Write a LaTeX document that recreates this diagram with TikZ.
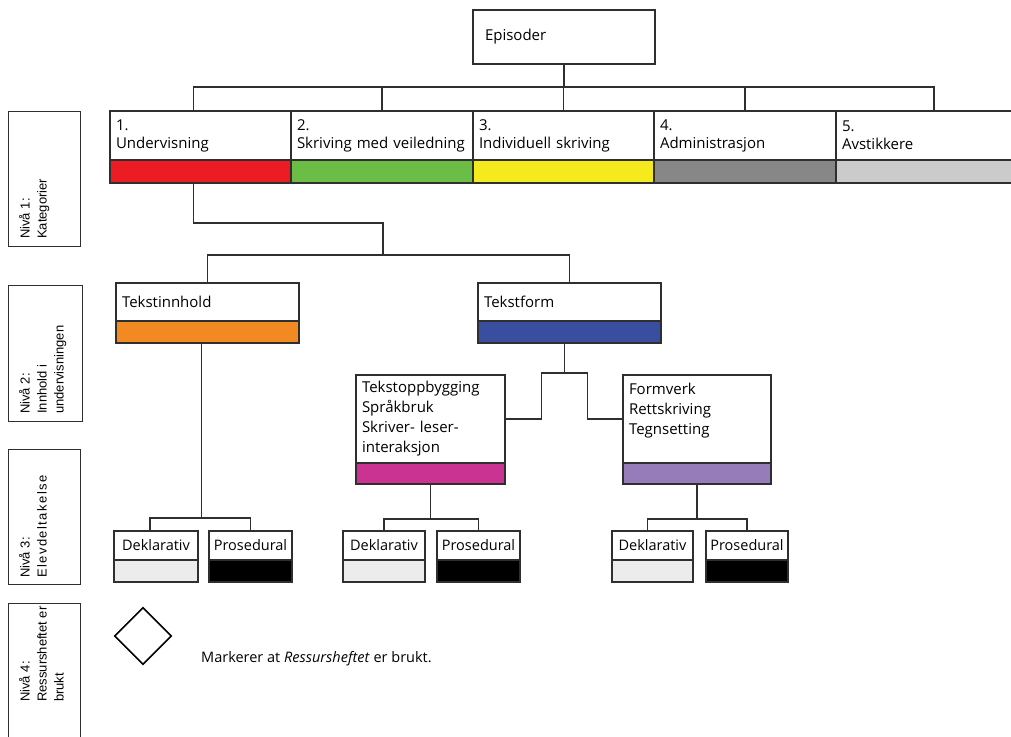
\documentclass[tikz,border=0pt]{standalone}
\usepackage{fontspec}
\setmainfont{Open Sans}
\newfontfamily\nivafont{Liberation Sans}
\usetikzlibrary{shapes.geometric}

\definecolor{linegray}{HTML}{2F2F2F}
\definecolor{katred}{HTML}{EC1C24}
\definecolor{katgreen}{HTML}{6BBD45}
\definecolor{katyellow}{HTML}{F4EA1C}
\definecolor{katdark}{HTML}{878787}
\definecolor{katlight}{HTML}{CBCBCB}
\definecolor{innorange}{HTML}{F28A21}
\definecolor{innblue}{HTML}{3A4E9F}
\definecolor{innmagenta}{HTML}{CB3393}
\definecolor{innpurple}{HTML}{967DB9}
\definecolor{deklgray}{HTML}{ECECEC}

\tikzset{
  boks/.style={draw=linegray, line width=1.3pt, fill=white, anchor=north west, align=left,
    inner xsep=6pt, inner ysep=0pt, outer sep=0pt, font=\fontsize{15}{18}\selectfont},
  valg/.style={draw=linegray, line width=1.3pt, fill=white, anchor=north west, align=center,
    inner xsep=1pt, inner ysep=0pt, outer sep=0pt, minimum height=29pt, font=\fontsize{14.5}{17}\selectfont},
  band/.style={draw=linegray, line width=1.3pt, anchor=north west, inner sep=0pt, outer sep=0pt},
  niva/.style={draw=linegray, line width=1pt, anchor=north west, minimum width=72pt,
    minimum height=135pt, inner sep=0pt, outer sep=0pt},
  nivatekst/.style={rotate=90, anchor=north west, align=left, inner sep=0pt,
    font=\nivafont\fontsize{13}{17}\selectfont},
  kobling/.style={draw=linegray, line width=1.3pt},
}

\begin{document}
\begin{tikzpicture}[x=1pt, y=-1pt]
  \useasboundingbox (0,0) rectangle (1011,736);

  % venstre kolonne: nivaer
  \node[niva] (lv1) at (8,111) {};
  \node[niva, minimum width=74pt, minimum height=136pt] (lv2) at (8,285) {};
  \node[niva] (lv3) at (8,449) {};
  \node[niva, minimum height=140pt] (lv4) at (8,603) {};
  \node[nivatekst] (lv1t) at ([xshift=11pt,yshift=7pt]lv1.south west) {Nivå 1:\\Kategorier};
  \node[nivatekst] (lv2t) at ([xshift=11pt,yshift=7pt]lv2.south west) {Nivå 2:\\Innhold i\\undervisningen};
  \node[nivatekst] (lv3t) at ([xshift=11pt,yshift=6pt]lv3.south west)
    {Nivå 3:\\{\addfontfeature{LetterSpace=11}Elevdeltakelse}};
  \node[nivatekst] (lv4t) at ([xshift=11pt,yshift=7pt]lv4.south west |- 0,709) {Nivå 4:\\Ressursheftet er\\brukt};

  \node[boks, text width=158pt, inner xsep=12pt, minimum height=54pt] (epi) at (473,10) {Episoder\\[4pt]};

  % nivaa 1
  \node[boks, text width=169pt, minimum height=49pt] (k1) at (110,111) {1.\\Undervisning};
  \node[boks, text width=170pt, minimum height=49pt] (k2) at (291,111) {2.\\Skriving~med~veiledning};
  \node[boks, text width=169pt, minimum height=49pt] (k3) at (473,111) {3.\\Individuell~skriving};
  \node[boks, text width=170pt, minimum height=49pt] (k4) at (654,111) {4.\\Administrasjon};
  \node[boks, text width=184pt, minimum height=49pt] (k5) at (836,111) {5.\\Avstikkere};
  \node[band, fill=katred, minimum width=181pt, minimum height=23pt] (k1b) at (k1.south west) {};
  \node[band, fill=katgreen, minimum width=182pt, minimum height=23pt] (k2b) at (k2.south west) {};
  \node[band, fill=katyellow, minimum width=181pt, minimum height=23pt] (k3b) at (k3.south west) {};
  \node[band, fill=katdark, minimum width=182pt, minimum height=23pt] (k4b) at (k4.south west) {};
  \node[band, fill=katlight, minimum width=196pt, minimum height=23pt] (k5b) at (k5.south west) {};

  % nivaa 2
  \node[boks, text width=171pt, minimum height=38pt] (t1) at (116,283) {Tekstinnhold};
  \node[boks, text width=171pt, minimum height=38pt] (t2) at (478,283) {Tekstform};
  \node[band, fill=innorange, minimum width=183pt, minimum height=22pt] (t1b) at (t1.south west) {};
  \node[band, fill=innblue, minimum width=183pt, minimum height=22pt] (t2b) at (t2.south west) {};

  \node[boks, text width=137pt, minimum height=88pt, font=\fontsize{15}{20}\selectfont] (s1) at (356,375)
    {Tekstoppbygging\\Språkbruk\\Skriver- leser-\\interaksjon};
  \node[boks, text width=136pt, minimum height=88pt, font=\fontsize{15}{20}\selectfont] (s2) at (623,375)
    {Formverk\\Rettskriving\\Tegnsetting\\~};
  \node[band, fill=innmagenta, minimum width=149pt, minimum height=21pt] (s1b) at (s1.south west) {};
  \node[band, fill=innpurple, minimum width=148pt, minimum height=21pt] (s2b) at (s2.south west) {};

  % nivaa 3
  \node[valg, text width=82pt] (d1) at (114,531) {Deklarativ};
  \node[valg, text width=81pt] (p1) at (209,531) {Prosedural};
  \node[valg, text width=80pt] (d2) at (343,531) {Deklarativ};
  \node[valg, text width=81pt] (p2) at (437,531) {Prosedural};
  \node[valg, text width=79pt] (d3) at (612,531) {Deklarativ};
  \node[valg, text width=80pt] (p3) at (706,531) {Prosedural};
  \node[band, fill=deklgray, minimum width=84pt, minimum height=22pt] (d1b) at (d1.south west) {};
  \node[band, fill=black, minimum width=83pt, minimum height=22pt] (p1b) at (p1.south west) {};
  \node[band, fill=deklgray, minimum width=82pt, minimum height=22pt] (d2b) at (d2.south west) {};
  \node[band, fill=black, minimum width=83pt, minimum height=22pt] (p2b) at (p2.south west) {};
  \node[band, fill=deklgray, minimum width=81pt, minimum height=22pt] (d3b) at (d3.south west) {};
  \node[band, fill=black, minimum width=82pt, minimum height=22pt] (p3b) at (p3.south west) {};

  % nivaa 4
  \node[diamond, draw=black, line width=1.6pt, minimum width=57pt, minimum height=57pt, inner sep=0pt] (ruter) at (143,636) {};
  \node[anchor=west, inner sep=0pt, font=\fontsize{14.5}{17}\selectfont] (forklaring) at (201,659)
    {Markerer at \textit{Ressursheftet} er brukt.};

  % koblinger
  \draw[kobling] (epi.south) -- ++(0,23) coordinate (skinne1);
  \draw[kobling] ([xshift=-7pt]k1.north) |- (skinne1);
  \draw[kobling] (k5.north) |- (skinne1);
  \draw[kobling] (k2.north) -- (k2.north |- skinne1);
  \draw[kobling] (k3.north) -- (k3.north |- skinne1);
  \draw[kobling] (k4.north) -- (k4.north |- skinne1);

  \coordinate (knekk1) at (383,223);
  \coordinate (skinne2) at (383,255);
  \draw[kobling] ([xshift=-7pt]k1b.south) |- (knekk1) -- (skinne2);
  \draw[kobling] (t1.north) |- (skinne2) -| (t2.north);

  \draw[kobling] ([xshift=-6pt]t1b.south) -- ++(0,175) coordinate (skinne3);
  \draw[kobling] ([xshift=-6pt]d1.north) |- (skinne3) -| (p1.north);

  \draw[kobling] ([xshift=-5pt]t2b.south) -- ++(0,30) coordinate (skinne4);
  \draw[kobling] (s1.east) -| ([xshift=-23pt]skinne4) -- ([xshift=23pt]skinne4) |- (s2.west);

  \draw[kobling] (s1b.south) -- ++(0,35) coordinate (skinne5);
  \draw[kobling] (d2.north) |- (skinne5) -| (p2.north);
  \draw[kobling] (s2b.south) -- ++(0,35) coordinate (skinne6);
  \draw[kobling] ([xshift=-5pt]d3.north) |- (skinne6) -| (p3.north);
\end{tikzpicture}
\end{document}
